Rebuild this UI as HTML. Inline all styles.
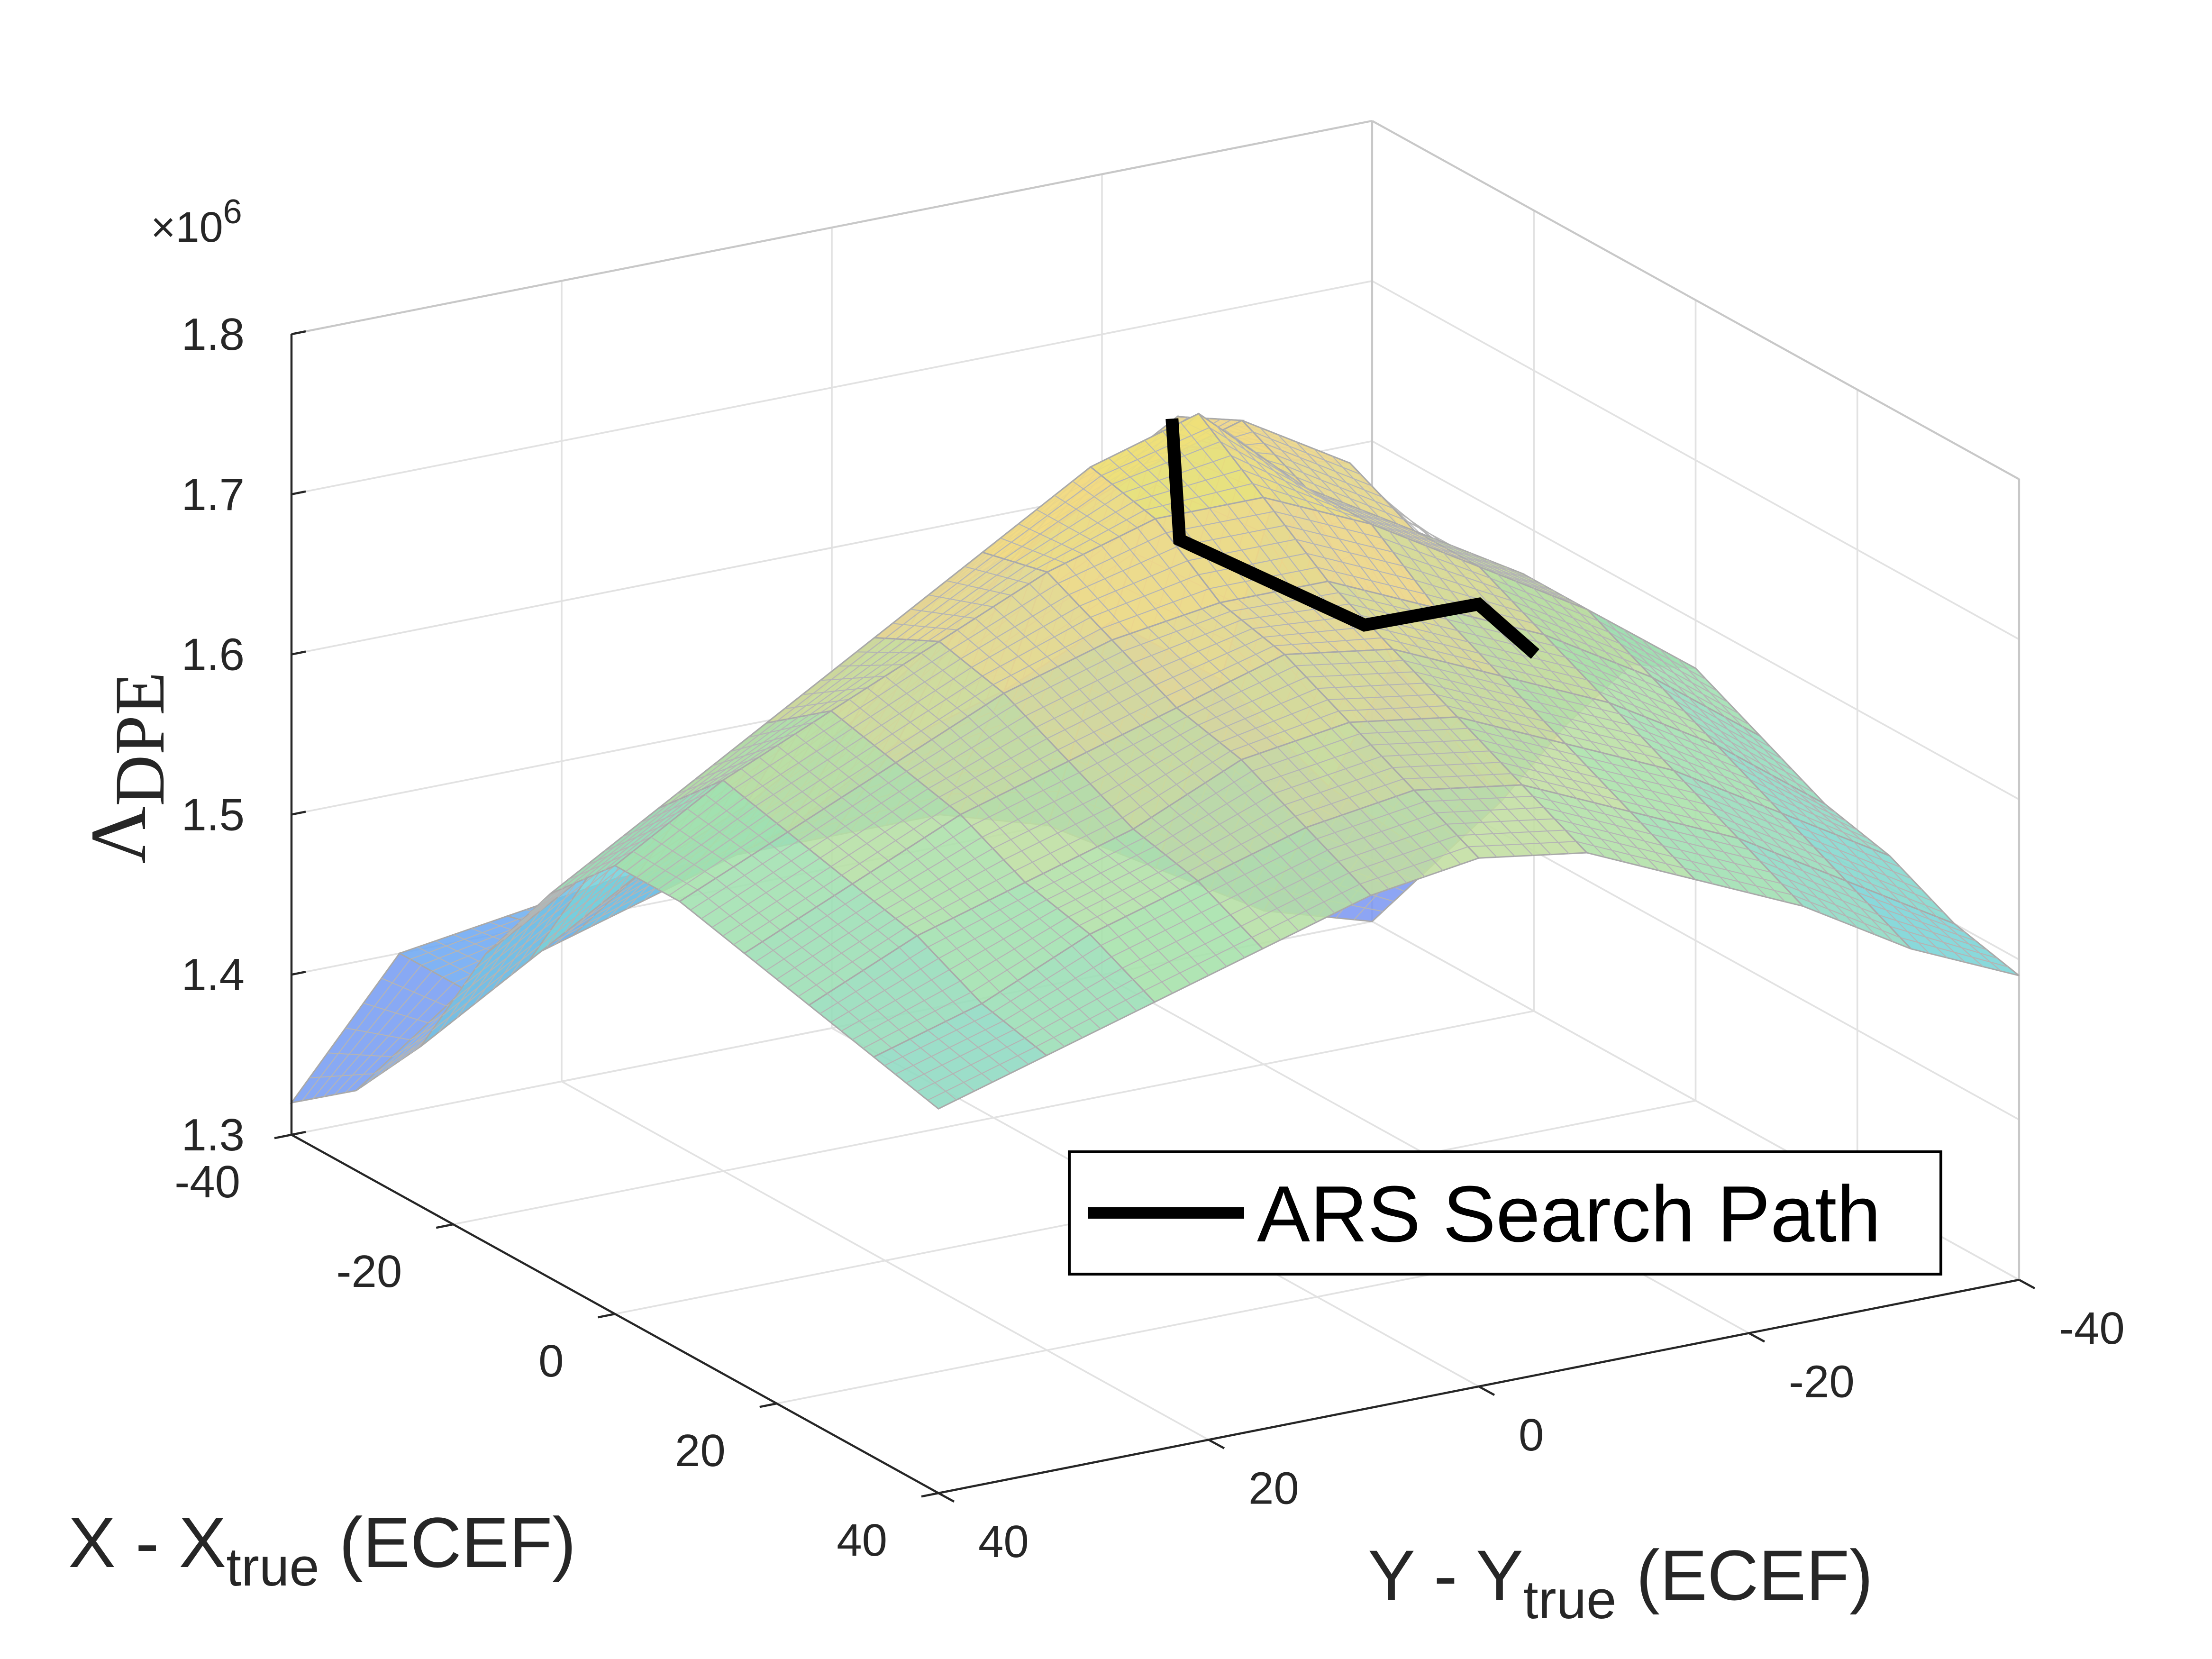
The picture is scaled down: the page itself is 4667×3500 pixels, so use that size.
<!DOCTYPE html>
<html><head><meta charset="utf-8">
<style>
html,body{margin:0;padding:0;background:#fff;}
svg{display:block;font-family:"Liberation Sans",sans-serif;}
</style></head>
<body>
<svg id="chart" width="4667" height="3500" viewBox="0 0 1555.67 1166.67" xmlns="http://www.w3.org/2000/svg">
<rect width="1555.67" height="1166.67" fill="#fff"/>
<g id="grid"></g>
<g id="surf"></g>
<g id="path"></g>
<g id="axes"></g>
<text x="106" y="170" font-size="30" fill="#262626">×10<tspan dy="-13" font-size="24">6</tspan></text>
<text x="48" y="1102" font-size="50" fill="#262626">X - X<tspan dy="13" font-size="38">true</tspan><tspan dy="-13"> (ECEF)</tspan></text>
<text x="962" y="1125" font-size="50" fill="#262626">Y - Y<tspan dy="13" font-size="38">true</tspan><tspan dy="-13"> (ECEF)</tspan></text>
<text transform="translate(102,540) rotate(-90)" text-anchor="middle" font-family="'Liberation Serif',serif" font-size="56" fill="#262626">Λ<tspan dy="13" font-size="50">DPE</tspan></text>
<g>
<rect x="752" y="810" width="613" height="86" fill="#fff" stroke="#000" stroke-width="2"/>
<line x1="765" y1="853" x2="875" y2="853" stroke="#000" stroke-width="8"/>
<text x="884" y="873" font-size="56" fill="#000">ARS Search Path</text>
</g>
</svg>
<script>
const xVals = [-40,-32,-24,-16,-8,0,8,16,24,32,40];
const yVals = [-40,-32,-24,-16,-8,0,8,16,24,32,40];
const zGrid = [
[1.30,1.32,1.36,1.40,1.42,1.42,1.42,1.42,1.41,1.40,1.32],
[1.36,1.42,1.50,1.55,1.52,1.50,1.46,1.44,1.42,1.40,1.35],
[1.42,1.52,1.66,1.70,1.66,1.60,1.55,1.51,1.48,1.44,1.40],
[1.49,1.58,1.68,1.72,1.70,1.67,1.64,1.60,1.56,1.52,1.48],
[1.55,1.62,1.66,1.70,1.76,1.74,1.70,1.66,1.62,1.58,1.54],
[1.57,1.62,1.66,1.70,1.73,1.73,1.71,1.68,1.65,1.62,1.58],
[1.55,1.60,1.64,1.67,1.70,1.70,1.69,1.67,1.64,1.61,1.58],
[1.53,1.58,1.62,1.65,1.68,1.69,1.67,1.65,1.63,1.60,1.57],
[1.52,1.56,1.60,1.63,1.66,1.67,1.66,1.63,1.61,1.59,1.56],
[1.50,1.54,1.58,1.61,1.64,1.65,1.64,1.62,1.60,1.57,1.55],
[1.49,1.52,1.56,1.59,1.62,1.63,1.62,1.60,1.58,1.56,1.54]
];
const pathX = [-13.3,-14.2,-4.7,-1.8,-2.3];
const pathY = [-9.2,-10.3,-18.3,-25,-29.5];
const pathZ = [1.74,1.66,1.62,1.63,1.59];
const zTicks = [1.3,1.4,1.5,1.6,1.7,1.8];
const xTicks = [-40,-20,0,20,40];
const yTicks = [-40,-20,0,20,40];

const NS="http://www.w3.org/2000/svg";
function P(x,y,z){
  const u=x+40, v=40-y, h=(z-1.3)/0.1*112.6;
  return [205+5.6875*u+9.5*v, 798+3.15*u-1.875*v-h];
}
function mk(tag,attrs,parent){
  const e=document.createElementNS(NS,tag);
  for(const k in attrs) e.setAttribute(k,attrs[k]);
  parent.appendChild(e); return e;
}
function line(a,b,stroke,w,parent){
  return mk('line',{x1:a[0],y1:a[1],x2:b[0],y2:b[1],stroke:stroke,'stroke-width':w},parent);
}
const grid=document.getElementById('grid');
const gc='#e2e2e2';
xTicks.forEach(t=>{
  const l1=line(P(t,40,1.3),P(t,-40,1.3),gc,1.2,grid);
  
  
  const l2=line(P(t,-40,1.3),P(t,-40,1.8),gc,1.2,grid);
  
  
});
yTicks.forEach(t=>{
  const l1=line(P(40,t,1.3),P(-40,t,1.3),gc,1.2,grid);
  
  
  const l2=line(P(-40,t,1.3),P(-40,t,1.8),gc,1.2,grid);
  
  
});
zTicks.forEach(t=>{
  const l1=line(P(-40,40,t),P(-40,-40,t),gc,1.2,grid);
  
  
  const l2=line(P(-40,-40,t),P(40,-40,t),gc,1.2,grid);
  
  
});
const bc='#c8c8c8';
[[P(-40,40,1.8),P(-40,-40,1.8)],[P(-40,-40,1.8),P(40,-40,1.8)],[P(40,-40,1.3),P(40,-40,1.8)],[P(-40,-40,1.3),P(-40,-40,1.8)]].forEach(s=>{
  const l=line(s[0],s[1],bc,1.4,grid);
  
  
});

const cmap=[[1.30,[140,140,240]],[1.40,[110,165,245]],[1.50,[115,210,220]],[1.60,[165,225,170]],[1.70,[245,215,140]],[1.78,[232,232,100]]];
function col(z){
  if(z<=cmap[0][0]) return cmap[0][1];
  for(let i=1;i<cmap.length;i++){
    if(z<=cmap[i][0]){
      const a=cmap[i-1],b=cmap[i],t=(z-a[0])/(b[0]-a[0]);
      return a[1].map((c,k)=>Math.round(c+(b[1][k]-c)*t));
    }
  }
  return cmap[cmap.length-1][1];
}
const surf=document.getElementById('surf');
const quads=[];
for(let i=0;i<xVals.length-1;i++)for(let j=0;j<yVals.length-1;j++){
  quads.push([i,j,xVals[i]+xVals[i+1]+yVals[j]+yVals[j+1]]);
}
quads.sort((a,b)=>a[2]-b[2]);
quads.forEach(q=>{
  const i=q[0],j=q[1];
  const c=[[i,j],[i+1,j],[i+1,j+1],[i,j+1]].map(([a,b])=>P(xVals[a],yVals[b],zGrid[a][b]));
  const zm=(zGrid[i][j]+zGrid[i+1][j]+zGrid[i+1][j+1]+zGrid[i][j+1])/4;
  const rgb=col(zm);
  const poly=mk('polygon',{points:c.map(p=>p.join(',')).join(' '),fill:`rgb(${rgb})`,'fill-opacity':0.88,stroke:'#a9a9a9','stroke-width':1},surf);
  
  
  const n=6;
  for(let k=1;k<n;k++){
    const t=k/n;
    const L=(p,q)=>[p[0]+(q[0]-p[0])*t,p[1]+(q[1]-p[1])*t];
    const m1=line(L(c[0],c[1]),L(c[3],c[2]),'#b4b4b4',0.7,surf);
    
    
    const m2=line(L(c[0],c[3]),L(c[1],c[2]),'#b4b4b4',0.7,surf);
    
    
  }
});

const pg=document.getElementById('path');
const pts=pathX.map((x,k)=>P(x,pathY[k],pathZ[k]));
const pl=mk('polyline',{points:pts.map(p=>p.join(',')).join(' '),fill:'none',stroke:'#000','stroke-width':9,'stroke-linejoin':'miter'},pg);



const ax=document.getElementById('axes');
const ac='#262626';
const za=line(P(-40,40,1.3),P(-40,40,1.8),ac,1.5,ax);


const xa=line(P(-40,40,1.3),P(40,40,1.3),ac,1.5,ax);


const ya=line(P(40,40,1.3),P(40,-40,1.3),ac,1.5,ax);


zTicks.forEach(t=>{
  const p=P(-40,40,t);
  const tk=line(p,[p[0]+10,p[1]-2],ac,1.5,ax);
  
  
  const tx=mk('text',{x:p[0]-33,y:p[1]+11,'font-size':32,'text-anchor':'end',fill:ac},ax);
  tx.textContent=t.toFixed(1);
  
  
});
xTicks.forEach(t=>{
  const p=P(t,40,1.3);
  const tk=line(p,[p[0]-12,p[1]+2.4],ac,1.5,ax);
  
  
  const tx=mk('text',{x:p[0]-36,y:p[1]+44,'font-size':32,'text-anchor':'end',fill:ac},ax);
  tx.textContent=t;
  
  
});
yTicks.forEach(t=>{
  const p=P(40,t,1.3);
  const tk=line(p,[p[0]+11,p[1]+6],ac,1.5,ax);
  
  
  const tx=mk('text',{x:p[0]+28,y:p[1]+45,'font-size':32,'text-anchor':'start',fill:ac},ax);
  tx.textContent=t;
  
  
});
</script>
</body></html>
